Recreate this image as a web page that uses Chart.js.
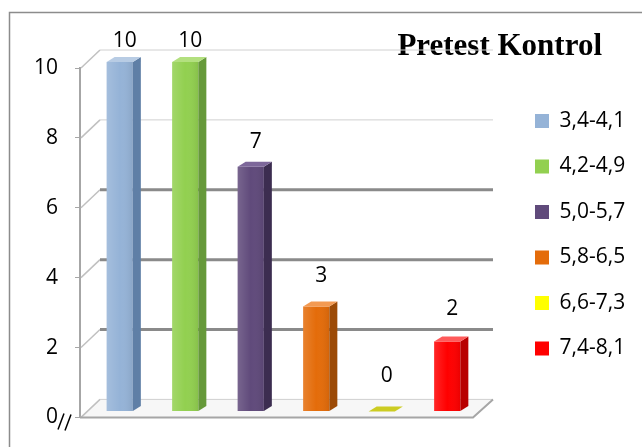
<!DOCTYPE html>
<html>
<head>
<meta charset="utf-8">
<script src="https://cdn.jsdelivr.net/npm/chart.js@4.4.1/dist/chart.umd.min.js"></script>
<style>
  html, body { margin: 0; padding: 0; background: #fff; }
</style>
</head>
<body>
<canvas id="chart" width="642" height="447"></canvas>
<script>
const categories = ["3,4-4,1", "4,2-4,9", "5,0-5,7", "5,8-6,5", "6,6-7,3", "7,4-8,1"];
const counts = [10, 10, 7, 3, 0, 2];
const yTicks = [0, 2, 4, 6, 8, 10];

const frontColors = ["#95b3d7", "#92d050", "#604a7b", "#e46c0a", "#ffff00", "#ff0000"];
const sideColors = ["#5f7fa6", "#66993a", "#3c2d50", "#9c4a06", "#b8b800", "#b80000"];
const topColors = ["#b8cce4", "#b3e07f", "#7d679a", "#f39a52", "#cccc22", "#ff5a5a"];

const wall = { dx: 20, dy: 18 };     // back wall offset from the front plane
const shift = { dx: 7, dy: 6 };      // columns stand a bit behind the front plane
const side = { dx: 8, dy: 5 };       // visible depth of each column
const titleRight = 602;

Chart.defaults.font.family = '"Open Sans", sans-serif';
Chart.defaults.color = "#000";

const columns3d = {
  id: "columns3d",
  afterLayout(chart) {
    // heading sits right-aligned above the legend
    const t = chart.titleBlock;
    t.right = titleRight;
    t.width = t.right - t.left;
  },
  beforeDraw(chart) {
    const ctx = chart.ctx;
    ctx.save();
    ctx.strokeStyle = "#8c8c8c";
    ctx.lineWidth = 1.5;
    ctx.beginPath();
    ctx.moveTo(9.5, chart.height);
    ctx.lineTo(9.5, 12.5);
    ctx.lineTo(chart.width, 12.5);
    ctx.stroke();
    ctx.restore();
  },
  beforeDatasetsDraw(chart) {
    const { ctx, chartArea: a, scales: { y } } = chart;
    const fy = y.getPixelForValue(0);
    ctx.save();
    // floor
    ctx.fillStyle = "#f7f7f7";
    ctx.beginPath();
    ctx.moveTo(a.left, fy);
    ctx.lineTo(a.right, fy);
    ctx.lineTo(a.right + wall.dx, fy - wall.dy);
    ctx.lineTo(a.left + wall.dx, fy - wall.dy);
    ctx.closePath();
    ctx.fill();
    // back wall lines + diagonals from the axis ticks
    y.ticks.forEach(t => {
      const py = y.getPixelForValue(t.value);
      ctx.strokeStyle = "#c0c0c0";
      ctx.lineWidth = 1.5;
      ctx.beginPath();
      ctx.moveTo(a.left + 1, py);
      ctx.lineTo(a.left + wall.dx, py - wall.dy);
      ctx.stroke();
      const heavy = t.value > 0 && t.value < 8;
      ctx.strokeStyle = heavy ? "#8a8a8a" : "#d0d0d0";
      ctx.lineWidth = heavy ? 3 : 1;
      ctx.beginPath();
      ctx.moveTo(a.left + wall.dx, py - wall.dy);
      ctx.lineTo(a.right + wall.dx, py - wall.dy);
      ctx.stroke();
    });
    ctx.strokeStyle = "#a6a6a6";
    ctx.lineWidth = 2;
    ctx.beginPath();
    ctx.moveTo(a.left, fy);
    ctx.lineTo(a.right, fy);
    ctx.lineTo(a.right + wall.dx, fy - wall.dy);
    ctx.stroke();
    ctx.restore();

    ctx.save();
    ctx.translate(shift.dx, -shift.dy);
  },
  afterDatasetsDraw(chart) {
    const ctx = chart.ctx;
    const bars = [];
    chart.data.datasets.forEach((ds, i) => {
      chart.getDatasetMeta(i).data.forEach((bar, j) => {
        if (ds.data[j] == null) return;
        const { x, y, base, width } = bar.getProps(["x", "y", "base", "width"], true);
        const l = x - width / 2, r = x + width / 2;
        if (base - y > 0) {
          const g = ctx.createLinearGradient(l, 0, r, 0);
          g.addColorStop(0, "rgba(255,255,255,0.15)");
          g.addColorStop(0.5, "rgba(255,255,255,0)");
          g.addColorStop(1, "rgba(0,0,0,0.08)");
          ctx.fillStyle = g;
          ctx.fillRect(l, y, width, base - y);
        }
        ctx.fillStyle = sideColors[i];
        ctx.beginPath();
        ctx.moveTo(r, y);
        ctx.lineTo(r + side.dx, y - side.dy);
        ctx.lineTo(r + side.dx, base - side.dy);
        ctx.lineTo(r, base);
        ctx.closePath();
        ctx.fill();
        ctx.fillStyle = topColors[i];
        ctx.beginPath();
        ctx.moveTo(l, y);
        ctx.lineTo(l + side.dx, y - side.dy);
        ctx.lineTo(r + side.dx, y - side.dy);
        ctx.lineTo(r, y);
        ctx.closePath();
        ctx.fill();
        bars.push({ x, y, v: ds.data[j] });
      });
    });
    ctx.restore();

    // value labels, a little higher over short columns (perspective)
    const yMax = chart.scales.y.max;
    ctx.save();
    ctx.font = '21px "Open Sans", sans-serif';
    ctx.fillStyle = "#000";
    ctx.textAlign = "center";
    ctx.textBaseline = "middle";
    bars.forEach(b => {
      const lift = 21 + 1.4 * (yMax - b.v);
      ctx.fillText(String(b.v), b.x + shift.dx + 5, b.y - shift.dy - lift);
    });

    // axis break marks beside the zero label
    const a = chart.chartArea;
    const zy = chart.scales.y.getPixelForValue(0);
    ctx.strokeStyle = "#000";
    ctx.lineWidth = 1.5;
    ctx.beginPath();
    ctx.moveTo(a.left - 22, zy + 12);
    ctx.lineTo(a.left - 16, zy - 4);
    ctx.moveTo(a.left - 15, zy + 13);
    ctx.lineTo(a.left - 9, zy - 3);
    ctx.stroke();
    ctx.restore();
  }
};

const datasets = categories.map((name, i) => ({
  label: name,
  data: categories.map((_, j) => (j === i ? counts[i] : null)),
  backgroundColor: frontColors[i],
  borderWidth: 0
}));

new Chart(document.getElementById("chart"), {
  type: "bar",
  data: { labels: categories, datasets: datasets },
  plugins: [columns3d],
  options: {
    responsive: false,
    animation: false,
    devicePixelRatio: 1,
    layout: { padding: { left: 0, right: 14, top: 28.4, bottom: 5.9 } },
    datasets: { bar: { categoryPercentage: 1, barPercentage: 0.4, skipNull: true } },
    scales: {
      x: {
        grid: { display: false },
        ticks: { display: false },
        border: { display: false },
        afterFit: s => { s.height = 23.1; }
      },
      y: {
        min: 0,
        max: 10,
        afterBuildTicks: s => { s.ticks = yTicks.map(v => ({ value: v })); },
        ticks: { padding: 17, color: "#000", font: { size: 21 } },
        grid: { drawOnChartArea: false, drawTicks: true, tickLength: 5, color: "#a6a6a6" },
        border: { color: "#a6a6a6", width: 2 },
        afterFit: s => { s.width = 80; }
      },
      gap: {
        type: "linear",
        position: "right",
        grid: { display: false },
        ticks: { display: false },
        border: { display: false },
        afterFit: s => { s.width = 37.5; }
      }
    },
    plugins: {
      title: {
        display: true,
        text: "Pretest Kontrol",
        align: "end",
        color: "#000",
        font: { family: '"Liberation Serif", serif', size: 31, weight: "bold", lineHeight: 1.2 },
        padding: { top: 0, bottom: 2.4 }
      },
      legend: {
        position: "right",
        align: "center",
        maxWidth: 117.5,
        labels: {
          boxWidth: 14,
          boxHeight: 14,
          padding: 24.5,
          color: "#000",
          font: { size: 21 }
        }
      },
      tooltip: { enabled: false }
    }
  }
});
</script>
</body>
</html>
